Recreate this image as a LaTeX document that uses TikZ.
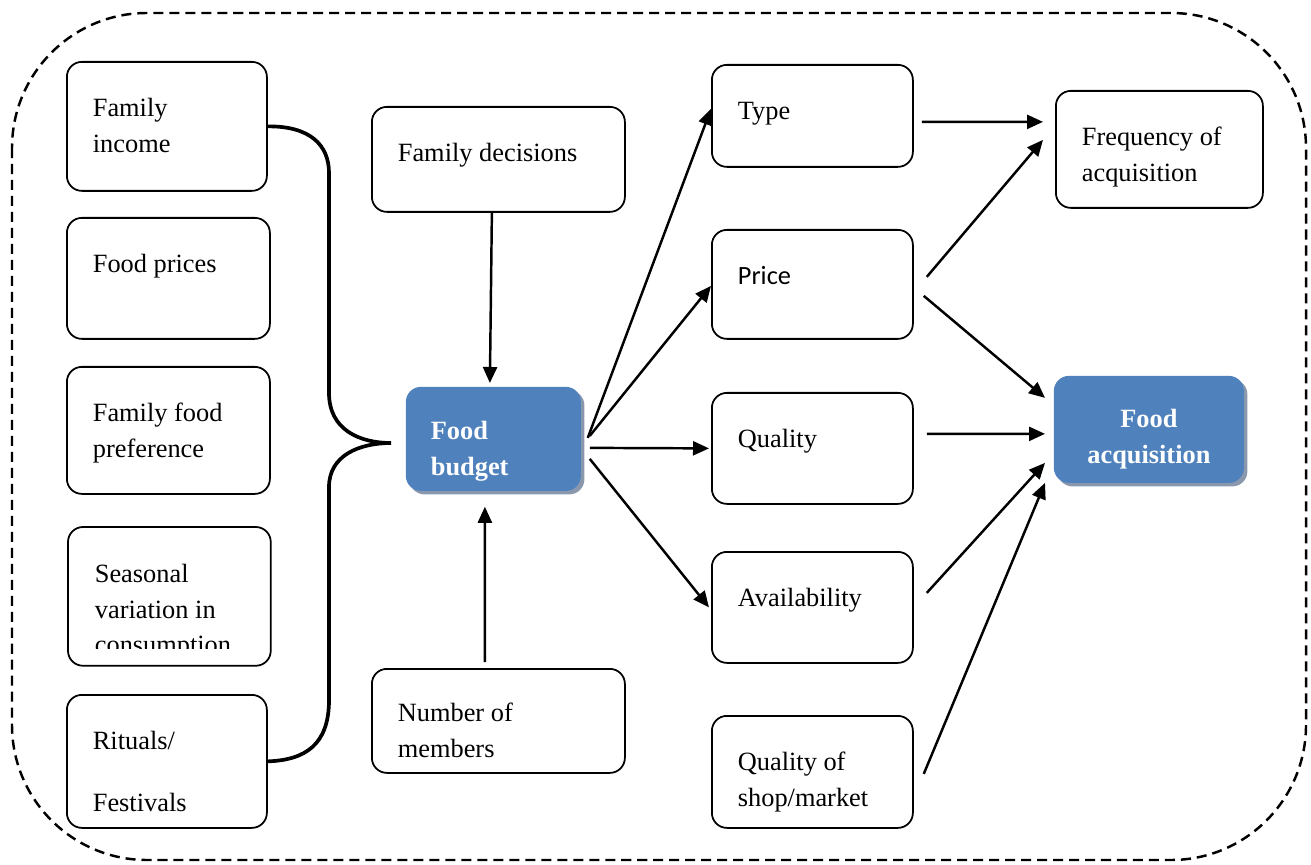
\documentclass[tikz,border=0pt]{standalone}
\usepackage{fontspec}
\setmainfont{Liberation Serif}
\newfontfamily\calibrifont{Carlito}
\usepackage{tikz}
\usetikzlibrary{arrows.meta,shadows}

\definecolor{budgetblue}{RGB}{79,129,189}
\definecolor{shadowgray}{RGB}{138,152,174}

\tikzset{
    box/.style={draw, rounded corners=0.3cm, line width=1pt, align=flush left, anchor=north west,
        inner xsep=0.52cm, inner ysep=0pt, text height=1.10cm,
        font=\fontsize{15}{20.2}\selectfont},
    bluebox/.style={box, draw=none, fill=budgetblue, text=white,
        font=\fontsize{15}{20.2}\selectfont\bfseries,
        drop shadow={shadow xshift=0.07cm, shadow yshift=-0.07cm, fill=shadowgray, opacity=1}},
    arr/.style={-{Triangle[length=0.32cm,width=0.28cm]}, line width=1.4pt},
    brace/.style={line width=2.1pt},
    frame/.style={dash pattern=on 5.7pt off 3.4pt, line width=1.4pt, rounded corners=2.7cm}
}

\begin{document}
\begin{tikzpicture}
    \useasboundingbox (0,0) rectangle (26.22,-17.30);
    \draw[frame] (0.24,-0.26) rectangle (26.12,-17.20);

    % left column
    \node[box, text width=2.96cm, text depth=1.48cm] (inc) at (1.32,-1.22) {Family\\income};
    \node[box, text width=3.02cm, text depth=1.32cm] (pri) at (1.32,-4.34) {Food prices};
    \node[box, text width=3.02cm, text depth=1.44cm] (pref) at (1.32,-7.32) {Family food\\preference};
    \begin{scope}
        \clip (1.0,-10.0) rectangle (6.0,-12.96);
        \node[box, draw=none, text width=2.98cm, text depth=1.64cm] (seas) at (1.36,-10.54) {Seasonal\\variation in\\consumption};
    \end{scope}
    \draw[line width=1pt, rounded corners=0.3cm] (seas.north west) rectangle (seas.south east);
    \node[box, text width=2.96cm, text depth=1.56cm] (rit) at (1.32,-13.88) {Rituals/\\[15pt]Festivals};

    % middle
    \node[box, text width=4.02cm, text depth=1.00cm] (dec) at (7.42,-2.12) {Family decisions};
    \node[box, text width=4.02cm, text height=1.06cm, text depth=1.02cm] (num) at (7.42,-13.36) {Number of\\members};
    \node[bluebox, text width=2.50cm, inner xsep=0.50cm, text height=1.06cm, text depth=1.02cm] (fb) at (8.10,-7.72) {Food\\budget};

    % right columns
    \node[box, text width=2.98cm, text depth=0.94cm] (type) at (14.22,-1.28) {Type};
    \node[box, text width=2.98cm, text depth=1.08cm, font=\fontsize{15}{20.2}\selectfont\calibrifont] (price) at (14.22,-4.58) {Price};
    \node[box, text width=2.98cm, text depth=1.12cm] (qual) at (14.22,-7.84) {Quality};
    \node[box, text width=2.98cm, text depth=1.12cm] (avail) at (14.22,-11.02) {Availability};
    \node[box, text width=2.98cm, text depth=1.14cm] (shop) at (14.22,-14.30) {Quality of\\shop/market};
    \node[box, text width=3.10cm, text depth=1.24cm] (freq) at (21.10,-1.80) {Frequency of\\acquisition};
    \node[bluebox, align=center, text width=3.40cm, inner xsep=0.20cm, text height=1.04cm, text depth=1.10cm] (acq) at (21.06,-7.50) {Food\\acquisition};

    % brace
    \coordinate (tip) at (7.82,-8.86);
    \draw[brace] (inc.east) .. controls (6.2,-2.52) and (6.58,-2.9) .. (6.58,-3.46) -- (6.58,-7.86)
        .. controls (6.58,-8.6) and (7.2,-8.86) .. (tip)
        .. controls (7.2,-8.86) and (6.58,-9.1) .. (6.58,-9.74) -- (6.58,-14.0)
        .. controls (6.58,-14.9) and (6.1,-15.2) .. (rit.east);

    % arrows
    \draw[arr] ([xshift=-0.13cm]dec.south) -- ([xshift=-0.07cm,yshift=0.06cm]fb.north);
    \draw[arr] ([xshift=-0.27cm,yshift=0.12cm]num.north) -- ([xshift=-0.17cm,yshift=-0.30cm]fb.south);
    \draw[arr] ([xshift=0.12cm,yshift=0.02cm]fb.east) -- ([yshift=0.14cm]type.west);
    \draw[arr] ([xshift=0.16cm,yshift=0.06cm]fb.east) -- ([yshift=-0.03cm]price.west);
    \draw[arr] ([xshift=0.16cm,yshift=-0.18cm]fb.east) -- ([xshift=-0.04cm]qual.west);
    \draw[arr] ([xshift=0.16cm,yshift=-0.40cm]fb.east) -- ([xshift=-0.04cm]avail.west);
    \draw[arr] ([xshift=0.16cm,yshift=-0.12cm]type.east) -- ([xshift=-0.24cm,yshift=0.55cm]freq.west);
    \draw[arr] ([xshift=0.26cm,yshift=0.15cm]price.east) -- ([xshift=-0.24cm,yshift=0.19cm]freq.west);
    \draw[arr] ([xshift=0.20cm,yshift=-0.23cm]price.east) -- ([xshift=-0.16cm,yshift=0.63cm]acq.west);
    \draw[arr] ([xshift=0.26cm,yshift=0.29cm]qual.east) -- ([xshift=-0.16cm,yshift=-0.09cm]acq.west);
    \draw[arr] ([xshift=0.26cm,yshift=0.29cm]avail.east) -- ([xshift=-0.16cm,yshift=-0.67cm]acq.west);
    \draw[arr] ([xshift=0.20cm,yshift=-0.04cm]shop.east) -- ([xshift=-0.16cm,yshift=-1.07cm]acq.west);
\end{tikzpicture}
\end{document}
